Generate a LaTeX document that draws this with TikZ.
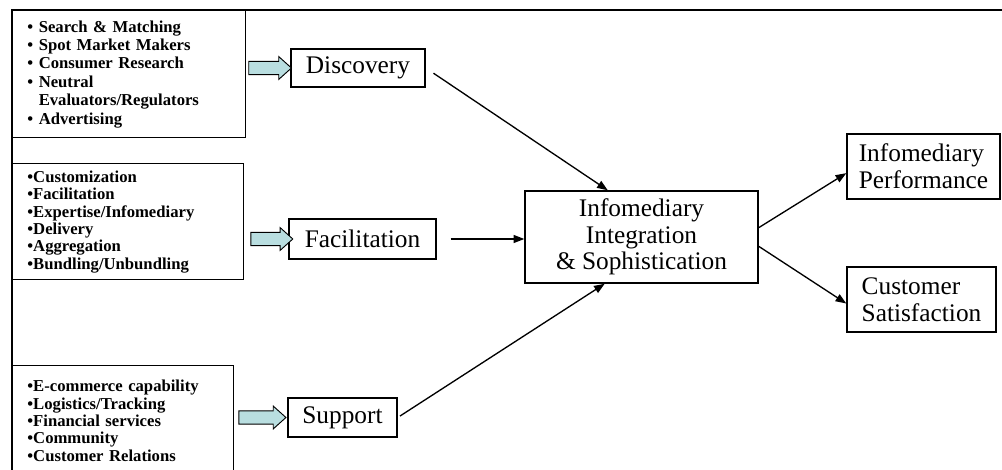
\documentclass[tikz,border=0pt]{standalone}
\usepackage{fontspec}
\setmainfont{Liberation Serif}
\usepackage{xcolor}
\usetikzlibrary{arrows.meta,positioning,calc,shapes.arrows}
\definecolor{Ink}{HTML}{000000}
\definecolor{Pale}{HTML}{B9DEE0}

\tikzset{
  frameline/.style={draw=Ink, line width=1.7pt},
  listbox/.style={draw=Ink, line width=1.1pt, anchor=north west, align=left, inner xsep=11pt, inner ysep=0pt},
  listfont/.style={font=\bfseries\fontsize{12.5}{#1}\selectfont},
  stagebox/.style={draw=Ink, line width=1.1pt, fill=white, inner sep=0pt, font=\fontsize{19}{20}\selectfont},
  feed/.style={single arrow, draw=Ink, line width=0.7pt, fill=Pale, minimum height=#1, inner xsep=0pt, inner ysep=4.6pt, single arrow head extend=3.6pt, single arrow tip angle=84},
  link/.style={draw=Ink, line width=1pt, -{Triangle[length=8pt,width=6pt]}}
}

\begin{document}
\begin{tikzpicture}[x=0.75pt, y=-0.75pt]
  \useasboundingbox (0,0) rectangle (1002,470);
  \draw[frameline] (12,470) |- (1002,10);

  \node[listbox, listfont=13.8, text width=152.5pt, minimum height=95.25pt] (lst1) at (12,10) {
    \textbullet\ Search \& Matching\\
    \textbullet\ Spot Market Makers\\
    \textbullet\ Consumer Research\\
    \textbullet\ Neutral\\
    \phantom{\textbullet\ }Evaluators/Regulators\\
    \textbullet\ Advertising};
  \node[listbox, listfont=13, text width=151.25pt, minimum height=87pt] (lst2) at (12,163) {
    \textbullet{}Customization\\
    \textbullet{}Facilitation\\
    \textbullet{}Expertise/Infomediary\\
    \textbullet{}Delivery\\
    \textbullet{}Aggregation\\
    \textbullet{}Bundling/Unbundling};
  \node[listbox, listfont=13, text width=143.75pt, minimum height=82.5pt] (lst3) at (12,365) {
    \textbullet{}E-commerce capability\\
    \textbullet{}Logistics/Tracking\\
    \textbullet{}Financial services\\
    \textbullet{}Community\\
    \textbullet{}Customer Relations};

  \node[stagebox, minimum width=100.5pt, minimum height=28.5pt] (disc) at (358,68) {Discovery};
  \node[stagebox, minimum width=110.25pt, minimum height=30pt] (fac) at (362.5,239) {Facilitation};
  \node[stagebox, minimum width=81.75pt, minimum height=29.25pt] (sup) at (342.5,417.5) {Support};
  \node[stagebox, align=center, minimum width=174.75pt, minimum height=69pt] (cent) at (641.5,237) {Infomediary\\Integration\\\& Sophistication};
  \node[stagebox, align=left, minimum width=114.75pt, minimum height=48.75pt] (perf) at (923.5,166.5) {Infomediary\\Performance};
  \node[stagebox, align=left, minimum width=111.75pt, minimum height=48.75pt] (cust) at (921.5,299.5) {Customer\\Satisfaction};

  \path (lst1.east |- disc.west) -- node[feed=32pt, pos=0.46] {} (disc.west);
  \path (lst2.east |- fac.west) -- node[feed=31.5pt, pos=0.54] {} (fac.west);
  \path (lst3.east |- sup.west) -- node[feed=35.25pt, pos=0.46] {} (sup.west);

  \draw[link, shorten <=7pt] (disc.east) -- ($(cent.north west)!0.356!(cent.north east)$);
  \draw[link, shorten <=10.5pt] (fac.east) -- (cent.west |- fac.east);
  \draw[link, shorten <=2pt] (sup.east) -- ($(cent.south west)!0.343!(cent.south east)$);
  \draw[link] ([yshift=7pt]cent.east) -- ([yshift=-5pt]perf.west);
  \draw[link] ([yshift=-7pt]cent.east) -- ([yshift=-3pt]cust.west);
\end{tikzpicture}
\end{document}
